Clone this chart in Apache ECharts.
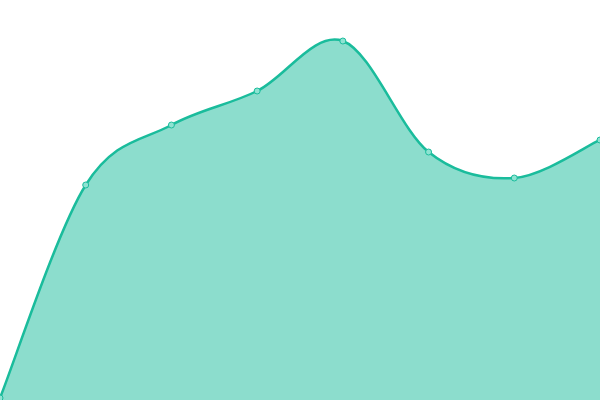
<!DOCTYPE html>
<html>
<head>
<meta charset="utf-8">
<script src="https://cdn.jsdelivr.net/npm/echarts@6/dist/echarts.min.js"></script>
<style>html,body{margin:0;padding:0;background:#fff}#c{width:600px;height:400px}</style>
</head>
<body>
<div id="c"></div>
<script>
const categories = ['A','B','C','D','E','F','G','H'];
const values = [2, 215, 275, 309, 359, 248, 222, 260];
const lineColor = '#1abc9c';

function buildPath(pts) {
  let d = 'M' + pts[0][0] + ' ' + pts[0][1];
  for (let i = 0; i < pts.length - 1; i++) {
    const p0 = pts[i - 1] || pts[i];
    const p1 = pts[i];
    const p2 = pts[i + 1];
    const p3 = pts[i + 2] || pts[i + 1];
    const c1x = p1[0] + (p2[0] - p0[0]) / 6, c1y = p1[1] + (p2[1] - p0[1]) / 6;
    const c2x = p2[0] - (p3[0] - p1[0]) / 6, c2y = p2[1] - (p3[1] - p1[1]) / 6;
    d += ' C' + c1x + ' ' + c1y + ' ' + c2x + ' ' + c2y + ' ' + p2[0] + ' ' + p2[1];
  }
  return d;
}

const chart = echarts.init(document.getElementById('c'));
chart.setOption({
  animation: false,
  grid: {left: 0, right: 0, top: 0, bottom: 0},
  xAxis: {type: 'category', data: categories, boundaryGap: false, show: false},
  yAxis: {type: 'value', min: 0, max: 400, show: false},
  series: [{
    type: 'custom',
    data: values,
    renderItem: function (params, api) {
      if (params.dataIndex !== 0) return null;
      const pts = values.map((v, i) => api.coord([i, v]));
      const base = api.coord([0, 0])[1];
      const curve = buildPath(pts);
      const last = pts[pts.length - 1];
      const area = curve + ' L' + last[0] + ' ' + base + ' L' + pts[0][0] + ' ' + base + ' Z';
      const children = [
        {type: 'path', shape: {pathData: area}, style: {fill: lineColor, opacity: 0.5}},
        {type: 'path', shape: {pathData: curve}, style: {fill: null, stroke: lineColor, lineWidth: 2.5}}
      ];
      pts.forEach(p => children.push({
        type: 'circle', shape: {cx: p[0], cy: p[1], r: 3},
        style: {fill: '#8ee3d2', stroke: lineColor, lineWidth: 1}
      }));
      return {type: 'group', children: children};
    }
  }]
});
</script>
</body>
</html>
